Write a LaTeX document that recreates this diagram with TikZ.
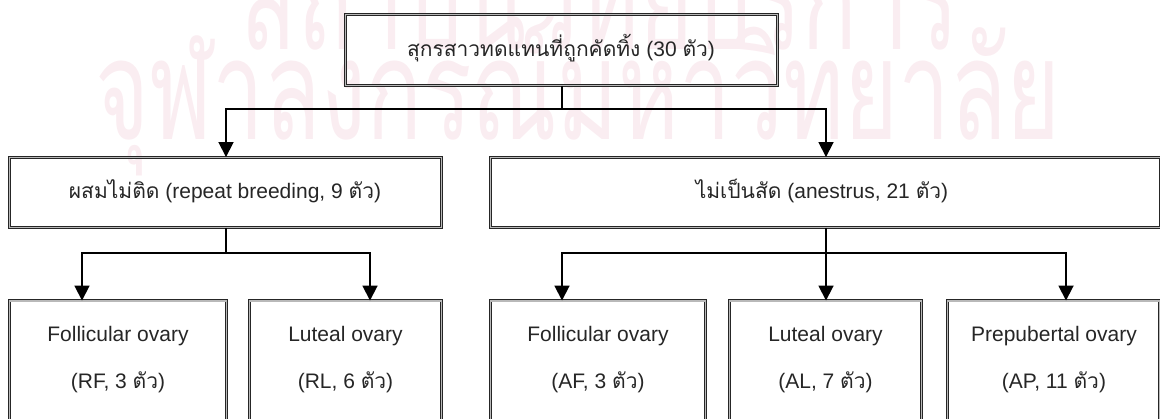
\documentclass[tikz,border=0pt]{standalone}
\usepackage{fontspec}
\setmainfont{Liberation Sans}
\newfontfamily\thai[Script=Thai]{Loma}
\usetikzlibrary{arrows.meta}
\definecolor{wmpink}{RGB}{250,237,241}
\tikzset{
  box/.style={draw=black!85, line width=0.9pt, double=gray!55, double distance=1.2pt,
    inner sep=0pt, anchor=center},
  lbl/.style={font=\fontsize{21}{24}\selectfont, text=black!85, inner sep=0pt, anchor=center},
  conn/.style={draw=black, line width=1.8pt},
  arr/.style={conn, -{Triangle[width=15pt,length=15pt]}},
  wm/.style={font=\thai\fontsize{140}{140}\selectfont, text=wmpink, inner sep=0pt, anchor=base}
}
\begin{document}
\begin{tikzpicture}[x=1pt,y=-1pt]
\useasboundingbox (0,0) rectangle (1160,419);
\clip (0,0) rectangle (1160,419);
% watermark
\node[wm, xscale=0.66] (wm1) at (600,50) {สถาบันวิทยบริการ};
\node[wm, xscale=0.66] (wm2) at (578,140) {จุฬาลงกรณ์มหาวิทยาลัย};
% boxes
\node[box, minimum width=432pt, minimum height=71pt] (top) at (561.5,50) {};
\node[box, minimum width=432pt, minimum height=70pt] (rb) at (225.5,192.5) {};
\node[box, minimum width=670pt, minimum height=70pt] (an) at (825.5,192.5) {};
\node[box, minimum width=217pt, minimum height=140pt] (rf) at (118,371) {};
\node[box, minimum width=192pt, minimum height=140pt] (rl) at (345.5,371) {};
\node[box, minimum width=215pt, minimum height=140pt] (af) at (598,371) {};
\node[box, minimum width=192pt, minimum height=140pt] (al) at (825.5,371) {};
\node[box, minimum width=212pt, minimum height=140pt] (ap) at (1053.5,371) {};
% texts
\node[lbl] (ttop) at (561,48) {{\thai สุกรสาวทดแทนที่ถูกคัดทิ้ง} (30 {\thai ตัว})};
\node[lbl] (trb) at (225,191) {{\thai ผสมไม่ติด} (repeat breeding, 9 {\thai ตัว})};
\node[lbl] (tan) at (822,191) {{\thai ไม่เป็นสัด} (anestrus, 21 {\thai ตัว})};
\node[lbl] (trf1) at (118,336) {Follicular ovary};
\node[lbl] (trf2) at (118,382) {(RF, 3 {\thai ตัว})};
\node[lbl] (trl1) at (345.5,336) {Luteal ovary};
\node[lbl] (trl2) at (345.5,382) {(RL, 6 {\thai ตัว})};
\node[lbl] (taf1) at (598,336) {Follicular ovary};
\node[lbl] (taf2) at (598,382) {(AF, 3 {\thai ตัว})};
\node[lbl] (tal1) at (825.5,336) {Luteal ovary};
\node[lbl] (tal2) at (825.5,382) {(AL, 7 {\thai ตัว})};
\node[lbl] (tap1) at (1054,336) {Prepubertal ovary};
\node[lbl] (tap2) at (1054,382) {(AP, 11 {\thai ตัว})};
% junctions
\coordinate (j1) at (562,109);
\coordinate (j2) at (226,253);
\coordinate (j3) at (826,253);
% connectors
\draw[conn] (top.south -| j1) -- (j1);
\draw[arr] (j1) -| (rb.north -| 226,0);
\draw[arr] (j1) -| (an.north -| 826,0);
\draw[conn] (rb.south -| j2) -- (j2);
\draw[arr] (j2) -| (rf.north -| 82,0);
\draw[arr] (j2) -| (rl.north -| 370,0);
\draw[arr] (an.south -| j3) -- (al.north -| j3);
\draw[arr] (j3) -| (af.north -| 562,0);
\draw[arr] (j3) -| (ap.north -| 1066,0);
\end{tikzpicture}
\end{document}
